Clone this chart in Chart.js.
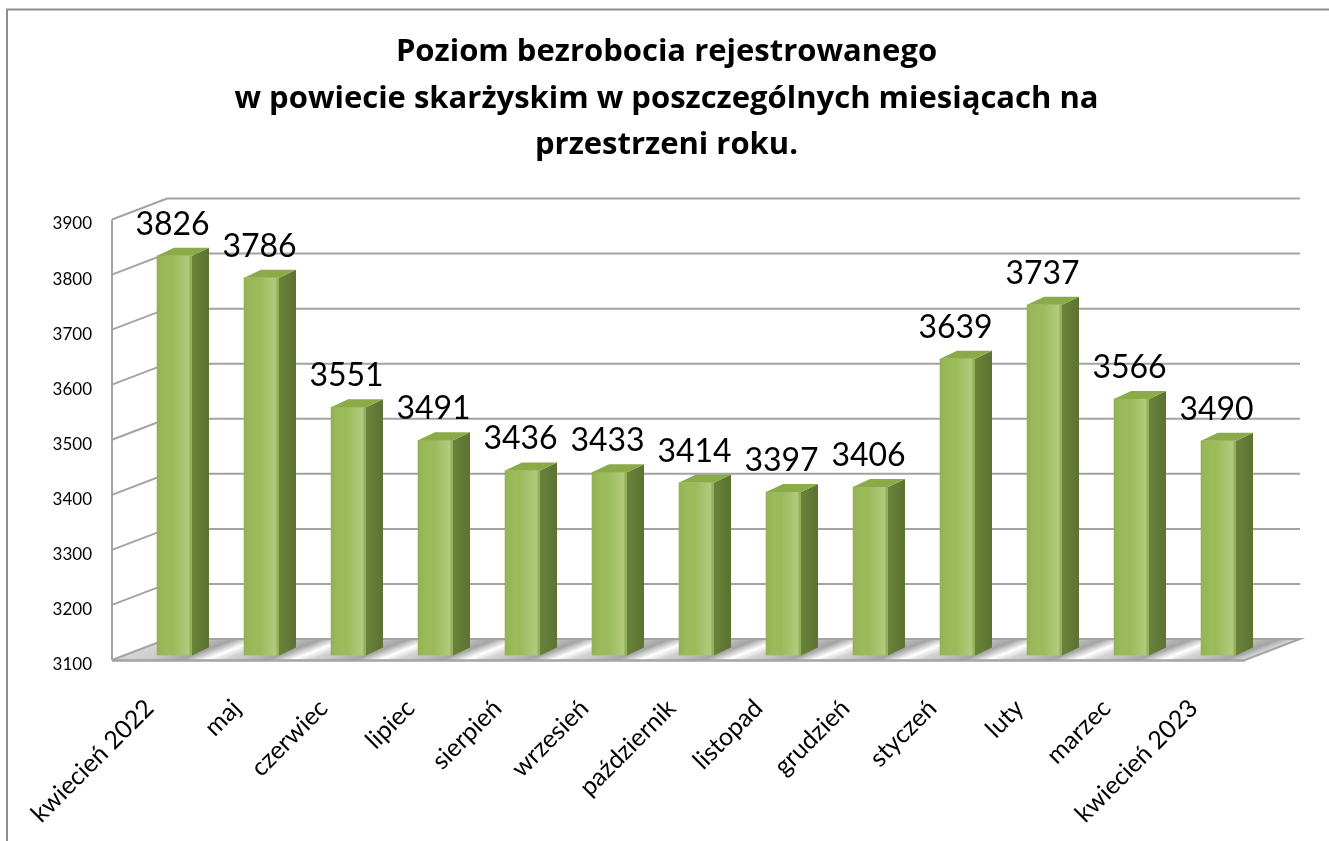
<!DOCTYPE html>
<html lang="pl">
<head>
<meta charset="UTF-8">
<title>Poziom bezrobocia rejestrowanego</title>
<script src="https://cdn.jsdelivr.net/npm/chart.js"></script>
<style>
  html, body { margin: 0; padding: 0; background: #fff; }
</style>
</head>
<body>
<canvas id="myChart" width="1329" height="841"></canvas>
<script>
const months = ['kwiecień 2022', 'maj', 'czerwiec', 'lipiec', 'sierpień', 'wrzesień',
  'październik', 'listopad', 'grudzień', 'styczeń', 'luty', 'marzec', 'kwiecień 2023'];
const unemployed = [3826, 3786, 3551, 3491, 3436, 3433, 3414, 3397, 3406, 3639, 3737, 3566, 3490];
const yMin = 3100;
const yMax = 3900;
const yStep = 100;
const titleLines = ['Poziom bezrobocia rejestrowanego',
  'w powiecie skarżyskim w poszczególnych miesiącach na',
  'przestrzeni roku.'];

// fake 3d: wall depth and bar depth (px)
const DX = 55, DY = -21;
const BDX = 17, BDY = -8;

const excel3d = {
  id: 'excel3d',
  beforeDraw(chart) {
    const { ctx } = chart;
    ctx.save();
    ctx.strokeStyle = '#8e8e8e';
    ctx.lineWidth = 2;
    ctx.beginPath();
    ctx.moveTo(7, chart.height);
    ctx.lineTo(7, 9.5);
    ctx.lineTo(chart.width, 9.5);
    ctx.stroke();
    ctx.restore();
  },
  beforeDatasetsDraw(chart) {
    const { ctx, chartArea: a, scales: { x, y } } = chart;
    const xl = a.left - 19, xr = a.right - 17;
    const fy = v => y.getPixelForValue(v) + 4.5;   // front plane of the box
    const yf = fy(yMin);

    // floor, skewed so the streaks follow the depth
    ctx.save();
    ctx.transform(1, 0, DX / DY, 1, -(DX / DY) * yf, 0);
    const g = ctx.createLinearGradient(xl, 0, xr, 0);
    const w = xr - xl;
    const stop = (px, col) => {
      const t = (px - xl) / w;
      if (t >= 0 && t <= 1) g.addColorStop(t, col);
    };
    stop(xl, '#d6d6d6');
    months.forEach((m, i) => {
      const cx = x.getPixelForValue(i) - 12;
      stop(cx - 17, '#cdcdcd');
      stop(cx + 18, '#a4a4a4');
      stop(cx + 42, '#ffffff');
      stop(cx + 62, '#d0d0d0');
    });
    stop(xr, '#e0e0e0');
    ctx.fillStyle = g;
    ctx.fillRect(xl, yf + DY, w, -DY);
    ctx.restore();

    ctx.save();
    ctx.strokeStyle = '#a3a3a3';
    ctx.lineWidth = 2;
    ctx.beginPath();
    ctx.moveTo(xl, yf);
    ctx.lineTo(xl + DX, yf + DY);
    ctx.lineTo(xr + DX, yf + DY);
    ctx.lineTo(xr, yf);
    ctx.stroke();
    ctx.lineWidth = 2.5;
    ctx.beginPath();
    ctx.moveTo(xl, yf + 0.5);
    ctx.lineTo(xr, yf + 0.5);
    ctx.stroke();
    // left wall + back wall gridlines
    ctx.lineWidth = 2;
    for (let v = yMin + yStep; v <= yMax; v += yStep) {
      const py = fy(v);
      ctx.beginPath();
      ctx.moveTo(xl, py);
      ctx.lineTo(xl + DX, py + DY);
      ctx.lineTo(xr + DX, py + DY);
      ctx.stroke();
    }
    ctx.beginPath();
    ctx.moveTo(xl, fy(yMax));
    ctx.lineTo(xl, yf);
    ctx.stroke();
    ctx.restore();
  },
  afterDatasetsDraw(chart) {
    const { ctx } = chart;
    const meta = chart.getDatasetMeta(0);
    ctx.save();
    meta.data.forEach((bar, i) => {
      const { x, y: top, base, width } = bar.getProps(['x', 'y', 'base', 'width'], true);
      const l = x - width / 2, r = x + width / 2;

      const fg = ctx.createLinearGradient(l, 0, r, 0);
      fg.addColorStop(0, 'rgba(0,0,0,0.05)');
      fg.addColorStop(0.45, 'rgba(255,255,255,0)');
      fg.addColorStop(0.8, 'rgba(255,255,255,0.18)');
      fg.addColorStop(0.9, 'rgba(255,255,255,0.22)');
      fg.addColorStop(1, 'rgba(0,0,0,0.04)');
      ctx.fillStyle = fg;
      ctx.fillRect(l, top, width, base - top);

      // side
      const sg = ctx.createLinearGradient(r, 0, r + BDX, 0);
      sg.addColorStop(0, '#6a833a');
      sg.addColorStop(1, '#5c7231');
      ctx.fillStyle = sg;
      ctx.beginPath();
      ctx.moveTo(r, top);
      ctx.lineTo(r + BDX, top + BDY);
      ctx.lineTo(r + BDX, base + BDY);
      ctx.lineTo(r, base);
      ctx.closePath();
      ctx.fill();

      // top
      ctx.fillStyle = '#8aab48';
      ctx.beginPath();
      ctx.moveTo(l, top);
      ctx.lineTo(l + BDX, top + BDY);
      ctx.lineTo(r + BDX, top + BDY);
      ctx.lineTo(r, top);
      ctx.closePath();
      ctx.fill();

      ctx.fillStyle = '#000';
      ctx.font = '32px Lato';
      ctx.textAlign = 'center';
      ctx.textBaseline = 'alphabetic';
      ctx.fillText(String(unemployed[i]), x - 2, top - 21);
    });
    ctx.restore();
  }
};

new Chart(document.getElementById('myChart'), {
  type: 'bar',
  data: {
    labels: months,
    datasets: [{
      data: unemployed,
      base: yMin,
      backgroundColor: '#9bbb59',
      borderWidth: 0,
      barThickness: 35
    }]
  },
  options: {
    responsive: false,
    animation: false,
    layout: { padding: { left: 6, right: 2, top: 10, bottom: 0 } },
    plugins: {
      legend: { display: false },
      tooltip: { enabled: false },
      title: {
        display: true,
        text: titleLines,
        color: '#000',
        font: { family: 'Open Sans', size: 31, weight: 'bold', lineHeight: 1.5 },
        padding: { top: 19, bottom: 46.5 }
      }
    },
    scales: {
      x: {
        grid: { display: false, drawTicks: false },
        border: { display: false },
        ticks: {
          color: '#000',
          font: { family: 'Lato', size: 25 },
          minRotation: 45,
          maxRotation: 45,
          autoSkip: false,
          padding: 38,
          labelOffset: -25
        },
        afterFit: s => { s.height = 185.5; }
      },
      y: {
        min: yMin,
        max: yMax,
        grid: { display: false, drawTicks: false },
        border: { display: false },
        ticks: {
          stepSize: yStep,
          color: '#000',
          font: { family: 'Lato', size: 17 },
          padding: 39,
          labelOffset: 9,
          callback: v => String(v)
        },
        afterFit: s => { s.width = 125; }
      },
      // empty right-hand spacer so the plot and the title sit like the original
      spacer: {
        position: 'right',
        grid: { display: false },
        border: { display: false },
        ticks: { display: false },
        afterFit: s => { s.width = 65; }
      }
    }
  },
  plugins: [excel3d]
});
</script>
</body>
</html>
